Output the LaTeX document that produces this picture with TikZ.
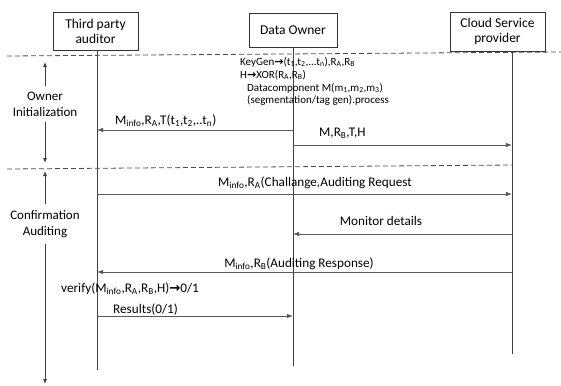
\documentclass[tikz,border=0pt]{standalone}
\usepackage{fontspec}
\setmainfont{Carlito}
\newfontfamily\arrowfont{DejaVu Sans}
\usetikzlibrary{arrows.meta}
\newcommand{\rarr}{{\arrowfont\bfseries →}}
\begin{document}
\begin{tikzpicture}[x=1pt,y=-1pt,
  actor/.style={draw=black!80, line width=0.9pt, align=center, font=\fontsize{13.5}{15}\selectfont, inner sep=2pt},
  life/.style={draw=black!75, line width=0.9pt},
  msg/.style={draw=black!65, line width=0.8pt, -{Latex[length=6pt,width=4.5pt]}},
  lbl/.style={font=\fontsize{13.2}{14}\selectfont, inner sep=1pt},
  small/.style={font=\fontsize{11}{12}\selectfont, inner sep=0pt, anchor=west},
  sep/.style={draw=black!70, dash pattern=on 5pt off 3pt, line width=0.8pt},
  side/.style={font=\fontsize{13}{16}\selectfont, align=center, inner sep=1pt},
  phase/.style={draw=black!75, line width=0.8pt, -{Latex[length=5pt,width=4pt]}}
]
\useasboundingbox (0,0) rectangle (561,385);

% actors
\node[actor, minimum width=85pt, minimum height=38pt] (tpa) at (95.5,31) {Third party\\auditor};
\node[actor, minimum width=88pt, minimum height=34pt] (do) at (293,30) {Data Owner};
\node[actor, minimum width=95pt, minimum height=39pt] (csp) at (497.5,31.5) {Cloud Service\\provider};

% lifelines
\coordinate (tpaTop) at (97,50);
\coordinate (tpaEnd) at (97,370);
\coordinate (doTop) at (293,47);
\coordinate (doEnd) at (293,366);
\coordinate (cspTop) at (512,51);
\coordinate (cspEnd) at (512,354);
\draw[life] (tpaTop) -- (tpaEnd);
\draw[life] (doTop) -- (doEnd);
\draw[life] (cspTop) -- (cspEnd);

% separators
\coordinate (s1a) at (7,56);
\coordinate (s1b) at (561,52);
\coordinate (s2a) at (7,169);
\coordinate (s2b) at (513,165);
\draw[sep] (s1a) -- (s1b);
\draw[sep] (s2a) -- (s2b);

% phase annotations
\node[side] (own) at (45,104) {Owner\\Initialization};
\coordinate (p1top) at (45,62);
\coordinate (p1bot) at (45,163);
\draw[phase] (own.north -| p1top) ++(0,-5) -- (p1top);
\draw[phase] (own.south -| p1bot) ++(0,5) -- (p1bot);
\node[side] (conf) at (45,224) {Confirmation\\Auditing};
\coordinate (p2top) at (45,171);
\coordinate (p2bot) at (45,384);
\draw[phase] (conf.north -| p2top) ++(0,-5) -- (p2top);
\draw[phase] (conf.south -| p2bot) ++(0,5) -- (p2bot);

% owner computations
\node[small] (k1) at (240,62) {KeyGen\rarr(t\textsubscript{1},t\textsubscript{2},...t\textsubscript{n}),R\textsubscript{A},R\textsubscript{B}};
\node[small] (k2) at (240,75) {H\rarr XOR(R\textsubscript{A},R\textsubscript{B})};
\node[small] (k3) at (247,88) {Datacomponent M(m\textsubscript{1},m\textsubscript{2},m\textsubscript{3})};
\node[small] (k4) at (247,100) {(segmentation/tag gen).process};

% messages
\coordinate (m1a) at (293,130); \coordinate (m1b) at (97,130);
\draw[msg] (m1a) -- (m1b);
\node[lbl, anchor=west] (l1) at (114,121) {M\textsubscript{info},R\textsubscript{A},T(t\textsubscript{1},t\textsubscript{2},..t\textsubscript{n})};

\coordinate (m2a) at (293,145); \coordinate (m2b) at (512,145);
\draw[msg] (m2a) -- (m2b);
\node[lbl, anchor=west] (l2) at (318,133) {M,R\textsubscript{B},T,H};

\coordinate (m3a) at (97,194); \coordinate (m3b) at (512,194);
\draw[msg] (m3a) -- (m3b);
\node[lbl] (l3) at (315,183) {M\textsubscript{info},R\textsubscript{A}(Challange,Auditing Request};

\coordinate (m4a) at (512,234); \coordinate (m4b) at (293,234);
\draw[msg] (m4a) -- (m4b);
\node[lbl] (l4) at (381,221) {Monitor details};

\coordinate (m5a) at (512,272); \coordinate (m5b) at (97,272);
\draw[msg] (m5a) -- (m5b);
\node[lbl] (l5) at (299,264) {M\textsubscript{info},R\textsubscript{B}(Auditing Response)};

\node[lbl, anchor=west] (v) at (60,289) {verify(M\textsubscript{info},R\textsubscript{A},R\textsubscript{B},H)\rarr0/1};

\coordinate (m6a) at (97,316); \coordinate (m6b) at (293,316);
\draw[msg] (m6a) -- (m6b);
\node[lbl, anchor=west] (l6) at (112,310) {Results(0/1)};
\end{tikzpicture}
\end{document}
